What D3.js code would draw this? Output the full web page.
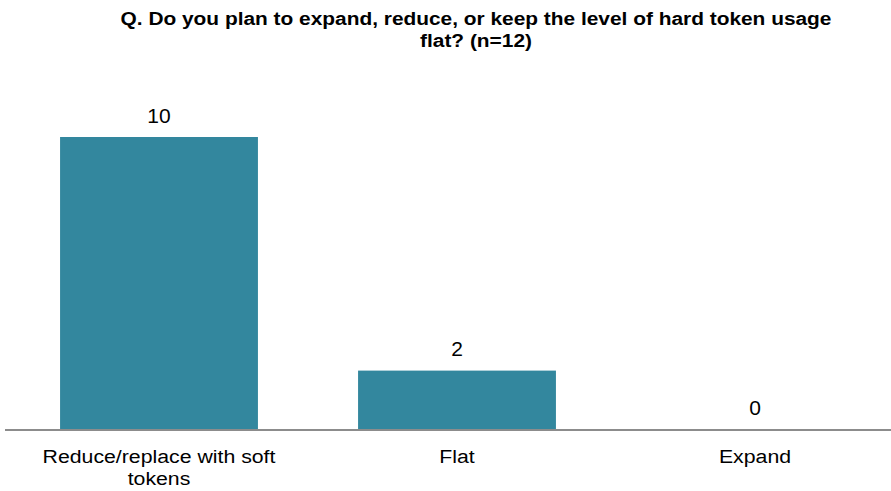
<!DOCTYPE html>
<html>
<head>
<meta charset="utf-8">
<script src="https://cdn.jsdelivr.net/npm/d3@7"></script>
<style>
  html, body { margin: 0; padding: 0; background: #fff; }
  svg { display: block; font-family: "Liberation Sans", Arial, sans-serif; }
</style>
</head>
<body>
<svg id="chart" width="891" height="491"></svg>
<script>
// Survey answers
const categories = ["Reduce/replace with soft tokens", "Flat", "Expand"];
const counts = [10, 2, 0];
const titleLines = ["Q. Do you plan to expand, reduce, or keep the level of hard token usage", "flat? (n=12)"];

const svg = d3.select("#chart");
const baseY = 429;

const x = d3.scaleBand()
  .domain(categories)
  .range([10, 904])
  .paddingInner(0.336)
  .paddingOuter(0.168);

const y = d3.scaleLinear()
  .domain([0, 10])
  .range([baseY, 137]);

// Title (slightly widened glyphs)
svg.append("g")
  .attr("transform", "translate(476,0) scale(1.16,1)")
  .selectAll("text")
  .data(titleLines)
  .join("text")
  .attr("x", 0)
  .attr("y", (d, i) => 25 + i * 22)
  .attr("text-anchor", "middle")
  .attr("font-size", 18)
  .attr("font-weight", "bold")
  .attr("fill", "#000")
  .text(d => d);

// Bars
svg.append("g")
  .selectAll("rect")
  .data(counts)
  .join("rect")
  .attr("x", (d, i) => x(categories[i]))
  .attr("width", x.bandwidth())
  .attr("y", d => y(d))
  .attr("height", d => baseY - y(d))
  .attr("fill", "#33879e");

// Value labels
svg.append("g")
  .selectAll("text")
  .data(counts)
  .join("text")
  .attr("x", (d, i) => x(categories[i]) + x.bandwidth() / 2)
  .attr("y", d => y(d) - 14.5)
  .attr("text-anchor", "middle")
  .attr("font-size", 21)
  .attr("fill", "#000")
  .text(d => d);

// Baseline
svg.append("line")
  .attr("x1", 5).attr("x2", 891)
  .attr("y1", baseY + 1).attr("y2", baseY + 1)
  .attr("stroke", "#8c8c8c")
  .attr("stroke-width", 2);

// Category labels, wrapped onto two lines where needed
const wrap = {
  "Reduce/replace with soft tokens": ["Reduce/replace with soft", "tokens"]
};
const catG = svg.append("g");
categories.forEach(c => {
  const lines = wrap[c] || [c];
  const cx = x(c) + x.bandwidth() / 2;
  catG.append("text")
    .attr("transform", `translate(${cx},0) scale(1.12,1)`)
    .attr("x", 0)
    .attr("y", 463)
    .attr("text-anchor", "middle")
    .attr("font-size", 19)
    .attr("fill", "#000")
    .selectAll("tspan")
    .data(lines)
    .join("tspan")
    .attr("x", 0)
    .attr("dy", (d, i) => i === 0 ? 0 : 22)
    .text(d => d);
});
</script>
</body>
</html>
